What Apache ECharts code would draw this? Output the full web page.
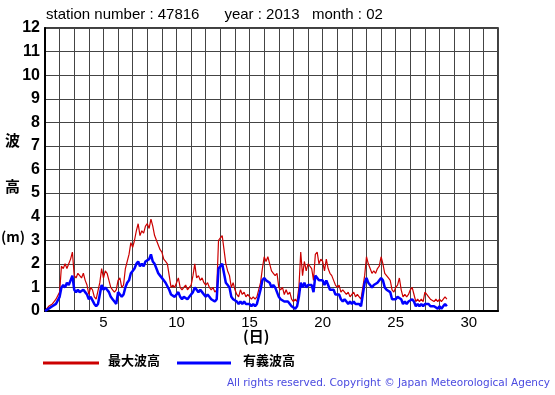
<!DOCTYPE html>
<html><head><meta charset="utf-8">
<script src="https://cdn.jsdelivr.net/npm/echarts@6/dist/echarts.min.js"></script>
<style>html,body{margin:0;padding:0;background:#fff}#c{width:555px;height:395px}</style>
</head><body><div id="c"></div>
<script>
// 3-hourly values starting at day 1 00:00
const startDay = 1;
const stepDay = 0.125;
const maxWave = [
 0.0,0.1,0.2,0.2,0.3,0.4,0.5,0.5,
 0.8,1.9,1.8,2.0,1.8,2.0,2.2,2.5,
 1.5,1.4,1.6,1.5,1.4,1.6,1.3,1.1,
 0.7,1.0,0.9,0.6,0.5,0.5,1.2,1.8,
 1.4,1.7,1.6,1.3,1.0,0.9,0.8,0.9,
 1.3,1.4,1.0,1.1,1.8,2.1,2.4,2.9,
 2.7,3.0,3.4,3.7,3.2,3.4,3.3,3.6,
 3.7,3.5,3.9,3.6,3.2,3.0,2.8,2.6,
 2.5,2.2,2.1,2.0,1.5,1.0,1.1,1.0,
 1.2,1.4,1.0,0.9,1.0,1.1,0.9,1.0,
 1.1,1.5,2.0,1.4,1.5,1.3,1.4,1.2,
 1.1,1.2,1.0,0.9,1.0,0.8,0.9,3.0,
 3.1,3.2,2.6,2.0,1.7,1.5,1.0,1.2,
 0.9,0.7,0.6,0.9,0.7,0.8,0.6,0.7,
 0.6,0.5,0.6,0.5,0.6,0.6,1.2,1.8,
 2.3,2.1,2.3,2.0,1.7,1.6,1.5,1.6,
 1.0,0.9,1.0,0.7,0.9,0.7,0.8,0.5,
 0.4,0.5,0.4,1.0,2.5,1.5,2.1,1.7,
 2.0,1.9,1.8,1.3,2.4,2.5,2.0,2.2,
 2.1,1.7,2.2,1.8,1.6,1.5,1.3,1.1,
 1.0,1.1,0.8,0.9,0.8,0.7,0.8,0.6,
 0.7,0.8,0.6,0.7,0.6,0.5,0.5,1.5,
 2.3,2.0,1.8,1.6,1.7,1.6,1.8,1.9,
 2.3,2.0,1.6,1.5,1.4,1.3,0.9,0.8,
 1.0,1.1,1.4,0.9,0.6,0.7,0.6,0.7,
 0.9,1.0,0.7,0.4,0.5,0.4,0.5,0.4,
 0.8,0.7,0.6,0.5,0.5,0.4,0.5,0.4,
 0.5,0.4,0.4,0.6,0.5
];
const sigWave = [
 0.0,0.05,0.1,0.15,0.2,0.25,0.3,0.35,
 0.6,1.0,1.1,1.0,1.2,1.1,1.3,1.5,
 0.9,0.8,0.9,0.8,0.8,0.9,0.8,0.7,
 0.5,0.6,0.6,0.3,0.2,0.3,0.7,1.1,
 0.9,1.0,0.9,0.8,0.6,0.5,0.4,0.3,
 0.8,0.8,0.6,0.7,1.0,1.2,1.3,1.6,
 1.7,1.8,2.0,2.1,1.9,2.0,1.9,2.1,
 2.1,2.2,2.4,2.1,2.0,1.8,1.6,1.5,
 1.5,1.3,1.2,1.2,0.9,0.7,0.7,0.6,
 0.7,0.8,0.6,0.5,0.6,0.6,0.5,0.6,
 0.6,0.8,1.0,0.9,0.8,0.9,0.8,0.7,
 0.6,0.7,0.6,0.5,0.5,0.4,0.5,1.8,
 1.9,2.0,1.6,1.2,1.1,1.0,0.6,0.5,
 0.5,0.4,0.3,0.4,0.3,0.4,0.3,0.3,
 0.3,0.2,0.3,0.2,0.3,0.3,0.9,1.3,
 1.4,1.3,1.3,1.2,1.0,1.1,1.0,1.0,
 0.6,0.5,0.5,0.4,0.4,0.4,0.4,0.2,
 0.2,0.1,0.2,0.6,1.2,1.0,1.2,1.0,
 1.1,1.1,1.1,0.8,1.5,1.5,1.3,1.3,
 1.3,1.1,1.3,1.1,0.9,0.9,0.9,0.7,
 0.7,0.7,0.5,0.4,0.5,0.4,0.3,0.4,
 0.3,0.4,0.3,0.3,0.3,0.2,0.2,1.2,
 1.4,1.2,1.1,1.0,1.1,1.1,1.2,1.2,
 1.4,1.3,1.0,0.9,0.9,0.8,0.5,0.5,
 0.5,0.6,0.6,0.5,0.3,0.4,0.3,0.4,
 0.4,0.5,0.4,0.2,0.3,0.2,0.3,0.2,
 0.3,0.3,0.3,0.2,0.2,0.2,0.2,0.1,
 0.2,0.1,0.2,0.3,0.2
];
const xTickLabels = [5,10,15,20,25,30];
const yTickLabels = [0,1,2,3,4,5,6,7,8,9,10,11,12];
const titleText = 'station number : 47816      year : 2013   month : 02';
const legendNames = ['最大波高','有義波高'];

const toPairs = arr => arr.map((v,i)=>[startDay + i*stepDay, v]);
const chart = echarts.init(document.getElementById('c'), null, {renderer:'canvas'});
const F = 'Liberation Sans, Arial, sans-serif';
chart.setOption({
  animation:false,
  backgroundColor:'#fff',
  grid:{left:45, top:28, width:453, height:283, show:true, borderColor:'#000', borderWidth:1.5, backgroundColor:'transparent'},
  xAxis:{type:'value', min:1, max:32, interval:1,
    axisLine:{show:true, lineStyle:{color:'#000', width:2}},
    axisTick:{show:false},
    axisLabel:{margin:4, fontFamily:F, fontSize:15, color:'#000',
      formatter:v=> xTickLabels.indexOf(v)>=0 ? String(v) : ''},
    splitLine:{show:true, lineStyle:{color:'#444', width:1}}},
  yAxis:{type:'value', min:0, max:12, interval:1,
    axisLine:{show:true, lineStyle:{color:'#000', width:2}},
    axisTick:{show:false},
    axisLabel:{margin:5, fontFamily:F, fontSize:16, fontWeight:'bold', color:'#000',
      formatter:v=> yTickLabels.indexOf(v)>=0 ? String(v) : ''},
    splitLine:{show:true, lineStyle:{color:'#444', width:1}}},
  series:[
    {name:legendNames[0], type:'line', data:toPairs(maxWave), showSymbol:false, symbol:'none',
      lineStyle:{color:'#cc0000', width:1.2}, z:2},
    {name:legendNames[1], type:'line', data:toPairs(sigWave), showSymbol:false, symbol:'none',
      lineStyle:{color:'#0000ff', width:2.5}, z:3}
  ],
  graphic:[
    {type:'text', left:46, top:7, style:{text:titleText, font:'15px '+F, fill:'#000'}},
    {type:'text', left:5, top:133, style:{text:'波', font:'bold 15px Noto Sans CJK JP', fill:'#000'}},
    {type:'text', left:5, top:179, style:{text:'高', font:'bold 15px Noto Sans CJK JP', fill:'#000'}},
    {type:'text', left:1, top:230, style:{text:'(m)', font:'bold 14px Noto Sans CJK JP', fill:'#000'}},
    {type:'text', left:243, top:329, style:{text:'(日)', font:'bold 15px Noto Sans CJK JP', fill:'#000'}},
    {type:'line', shape:{x1:43, y1:363, x2:99, y2:363}, style:{stroke:'#cc0000', lineWidth:3}},
    {type:'text', left:108, top:354, style:{text:legendNames[0], font:'bold 13px Noto Sans CJK JP', fill:'#000'}},
    {type:'line', shape:{x1:177, y1:363, x2:231, y2:363}, style:{stroke:'#0000ff', lineWidth:3}},
    {type:'text', left:243, top:354, style:{text:legendNames[1], font:'bold 13px Noto Sans CJK JP', fill:'#000'}},
    {type:'text', right:5, top:378, style:{text:'All rights reserved. Copyright © Japan Meteorological Agency', font:'10.5px DejaVu Sans', fill:'#4a4ae0'}}
  ]
});
</script></body></html>
